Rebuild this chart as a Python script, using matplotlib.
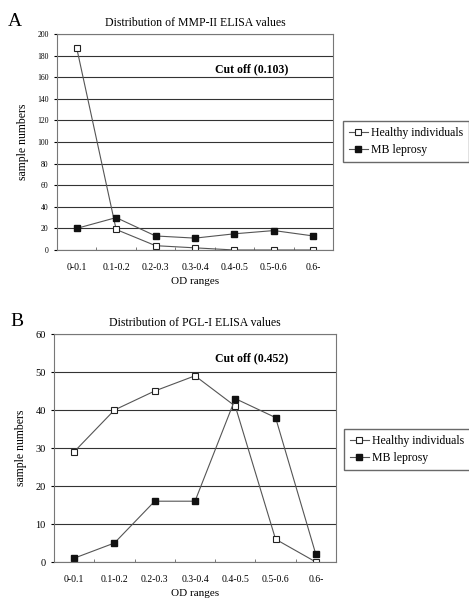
import matplotlib
matplotlib.use("Agg")
import matplotlib.pyplot as plt
import numpy as np

plt.rcParams['font.family'] = ['Liberation Serif', 'DejaVu Serif']

# categories
od_ranges = ["0-0.1", "0.1-0.2", "0.2-0.3", "0.3-0.4", "0.4-0.5", "0.5-0.6", "0.6-"]

# panel A: MMP-II
mmp_healthy = [187, 19, 4, 2, 0, 0, 0]
mmp_mb = [20, 30, 13, 11, 15, 18, 13]

# panel B: PGL-I
pgl_healthy = [29, 40, 45, 49, 41, 6, 0]
pgl_mb = [1, 5, 16, 16, 43, 38, 2]

W, H = 469, 599
fig = plt.figure(figsize=(W/100, H/100), dpi=100)

def panel(rect, healthy, mb, ymax, ystep, ysize, title, cutoff, cut_xy, leg_xy, letter, letter_xy):
    l, t, r, b = rect
    ax = fig.add_axes([l/W, 1-b/H, (r-l)/W, (b-t)/H])
    x = np.arange(len(od_ranges))
    ax.plot(x, healthy, color='#555555', lw=0.8, marker='s', ms=5,
            mfc='white', mec='#222222', mew=0.8, label='Healthy individuals')
    ax.plot(x, mb, color='#555555', lw=0.8, marker='s', ms=5,
            mfc='#111111', mec='#111111', label='MB leprosy')
    ax.set_xlim(-0.5, len(od_ranges)-0.5)
    ax.set_ylim(0, ymax)
    ax.set_yticks(np.arange(0, ymax+1, ystep))
    ax.set_xticks(x)
    ax.set_xticklabels(od_ranges)
    ax.set_xticks(np.arange(-0.5, len(od_ranges)), minor=True)
    ax.tick_params(axis='x', which='major', length=0, labelsize=7, pad=9)
    ax.tick_params(axis='x', which='minor', length=2, direction='in', color='#666666')
    ax.tick_params(axis='y', length=2, labelsize=ysize, pad=4)
    ax.yaxis.grid(True, color='#333333', lw=0.8)
    ax.set_axisbelow(True)
    for s in ax.spines.values():
        s.set_color('#777777')
        s.set_linewidth(0.8)
    ax.set_title(title, fontsize=8.5, pad=6)
    ax.set_xlabel("OD ranges", fontsize=8, labelpad=4)
    ax.set_ylabel("sample numbers", fontsize=8.5, labelpad=6)
    ax.text(cut_xy[0], cut_xy[1], cutoff, transform=ax.transAxes, fontsize=8.5,
            fontweight='bold', ha='center', va='center')
    ax.legend(loc='upper left', bbox_to_anchor=(leg_xy[0]/W, 1-leg_xy[1]/H),
              bbox_transform=fig.transFigure, borderaxespad=0, fontsize=8.5,
              frameon=True, fancybox=False, edgecolor='#444444',
              handlelength=1.6, handletextpad=0.3, borderpad=0.5,
              labelspacing=0.45, markerscale=0.9)
    fig.text(letter_xy[0]/W, 1-letter_xy[1]/H, letter, fontsize=14, ha='left', va='center')
    return ax

panel((57, 34, 333, 250), mmp_healthy, mmp_mb, 200, 20, 5.5,
      "Distribution of MMP-II ELISA values", "Cut off (0.103)", (0.706, 0.838),
      (343, 121), "A", (8, 22))
panel((54, 334, 336, 562), pgl_healthy, pgl_mb, 60, 10, 7.5,
      "Distribution of PGL-I ELISA values", "Cut off (0.452)", (0.70, 0.895),
      (344, 429), "B", (10, 322))

fig.savefig("out.png", dpi=100)
